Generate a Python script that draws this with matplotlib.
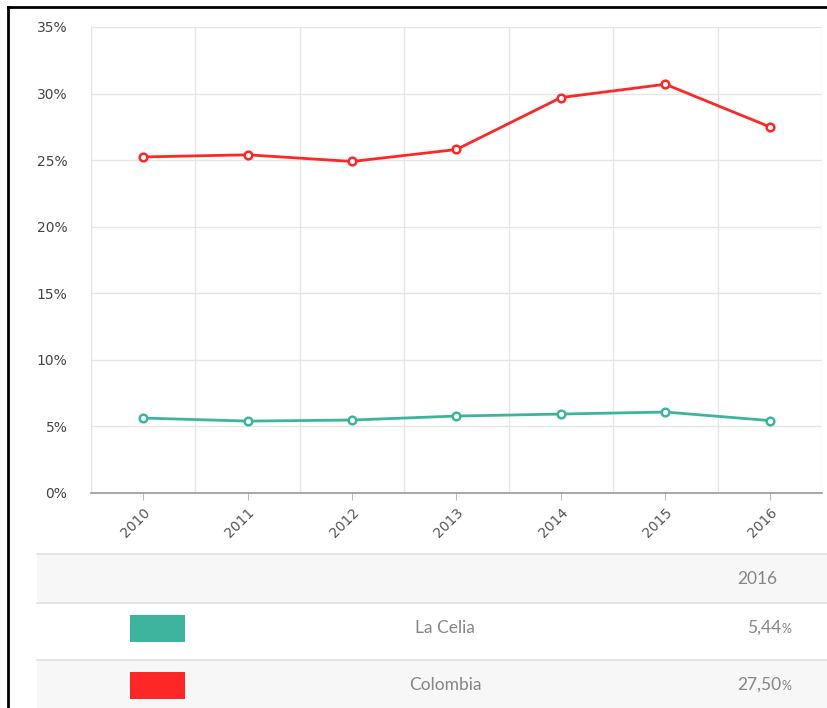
import matplotlib.pyplot as plt
from matplotlib.patches import Rectangle
from matplotlib.ticker import FuncFormatter

# Data
years = ["2010", "2011", "2012", "2013", "2014", "2015", "2016"]
la_celia = [5.63, 5.40, 5.48, 5.78, 5.93, 6.08, 5.44]
colombia = [25.24, 25.40, 24.90, 25.80, 29.70, 30.70, 27.50]
series_names = ["La Celia", "Colombia"]

teal = "#3db59e"
red = "#ff2626"

fig = plt.figure(figsize=(8.27, 7.08), dpi=100)

# main chart
ax = fig.add_axes([91 / 827, 1 - 493 / 708, 731 / 827, 466 / 708])
x = range(len(years))
ax.plot(x, la_celia, color=teal, lw=2, marker="o", ms=5.5, mfc="white",
        mec=teal, mew=1.8, zorder=3)
ax.plot(x, colombia, color=red, lw=2, marker="o", ms=5.5, mfc="white",
        mec=red, mew=1.8, zorder=3)

ax.set_xlim(-0.5, len(years) - 0.5)
ax.set_ylim(0, 35)
ax.set_yticks(range(0, 36, 5))
ax.yaxis.set_major_formatter(FuncFormatter(lambda v, p: f"{v:.0f}%"))
ax.set_xticks(list(x))
ax.set_xticklabels(years, rotation=45, ha="right", rotation_mode="anchor")
ax.set_xticks([i - 0.5 for i in range(len(years) + 1)], minor=True)

ax.grid(True, axis="y", which="major", color="#e6e6e6", lw=1)
ax.grid(True, axis="x", which="minor", color="#e6e6e6", lw=1)
ax.grid(False, axis="x", which="major")
ax.set_axisbelow(True)

for s in ["top", "right", "left"]:
    ax.spines[s].set_visible(False)
ax.spines["bottom"].set_color("#999999")
ax.spines["bottom"].set_linewidth(1.2)
ax.tick_params(axis="y", length=0, pad=17, labelsize=10, labelcolor="#444444")
ax.tick_params(axis="x", which="major", length=5, color="#bbbbbb",
               labelsize=10, labelcolor="#555555", pad=4)
ax.tick_params(axis="x", which="minor", length=0)

# table below the chart, drawn in pixel coordinates
tb = fig.add_axes([0, 0, 1, 1], zorder=-1)
tb.set_xlim(0, 827)
tb.set_ylim(708, 0)
tb.axis("off")

tb.add_patch(Rectangle((37, 554), 790, 49, color="#f7f7f7", lw=0))
tb.add_patch(Rectangle((37, 660), 790, 48, color="#f7f7f7", lw=0))
for yy in [554, 603, 660]:
    tb.plot([37, 827], [yy, yy], color="#e0e0e0", lw=1.2)

font = ["Lato", "DejaVu Sans"]
tcol = "#858585"
tb.text(757, 579, years[-1], ha="center", va="center", fontsize=12.5,
        color=tcol, family=font)
rows = [(la_celia[-1], teal, 628), (colombia[-1], red, 685)]
for name, (val, col, yc) in zip(series_names, rows):
    tb.add_patch(Rectangle((130, yc - 13), 55, 27, color=col, lw=0))
    tb.text(445, yc, name, ha="center", va="center", fontsize=12.5,
            color=tcol, family=font)
    tb.text(781, yc, f"{val:.2f}".replace(".", ","), ha="right", va="center",
            fontsize=12.5, color=tcol, family=font)
    tb.text(781, yc + 1, "%", ha="left", va="center", fontsize=9,
            color=tcol, family=font)

# black frame of the screenshot
tb.plot([8, 8], [7, 708], color="black", lw=2)
tb.plot([8, 827], [7, 7], color="black", lw=2)

fig.savefig("out.png", dpi=100)
